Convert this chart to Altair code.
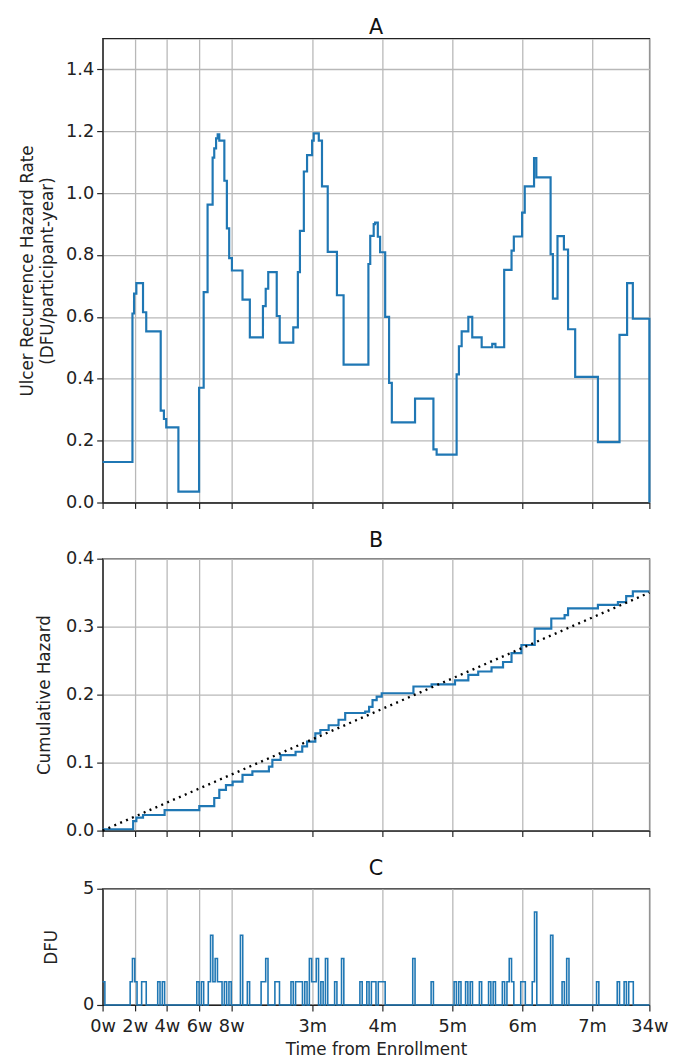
import altair as alt
import pandas as pd

# ---------------- x axis ticks (days since enrollment) ----------------
tick_days = [0, 14, 28, 42, 56, 91.31, 121.75, 152.19, 182.63, 213.06, 238]
tick_labels = ["0w", "2w", "4w", "6w", "8w", "3m", "4m", "5m", "6m", "7m", "34w"]
x_max = 238

# ---------------- Panel A: hazard rate (step) ----------------
hazard_day = [0, 13.0, 13.7, 14.7, 17.6, 19.0, 25.3, 26.7, 27.7, 33.0, 42.0, 44.0,
              45.7, 47.9, 48.6, 49.4, 50.1, 50.8, 53.0, 54.1, 55.1, 56.3, 60.9,
              64.1, 69.8, 71.0, 72.1, 75.8, 77.1, 83.0, 85.0, 85.9, 87.6, 89.0,
              91.2, 91.9, 94.1, 95.5, 98.0, 102.0, 104.9, 115.7, 116.5, 118.0,
              118.6, 119.8, 120.8, 123.0, 124.7, 125.9, 136.0, 144.0, 145.4,
              154.1, 155.1, 156.3, 159.2, 160.9, 165.0, 169.6, 171.0, 174.8,
              178.0, 179.0, 182.6, 183.75, 187.8, 188.8, 195.0, 196.0, 198.0,
              200.8, 202.6, 205.7, 215.6, 225.0, 228.3, 230.8, 238.0]
hazard_rate = [0.131, 0.611, 0.675, 0.709, 0.615, 0.553, 0.297, 0.27, 0.243, 0.035,
               0.371, 0.68, 0.963, 1.115, 1.145, 1.177, 1.19, 1.17, 1.04, 0.886,
               0.79, 0.75, 0.656, 0.534, 0.635, 0.691, 0.745, 0.603, 0.517, 0.566,
               0.745, 0.878, 1.07, 1.123, 1.17, 1.193, 1.17, 1.022, 0.81, 0.67,
               0.446, 0.771, 0.862, 0.9, 0.905, 0.859, 0.809, 0.6, 0.387, 0.259,
               0.336, 0.172, 0.155, 0.414, 0.505, 0.553, 0.6, 0.534, 0.502, 0.513,
               0.502, 0.752, 0.814, 0.86, 0.937, 1.022, 1.113, 1.051, 0.803, 0.659,
               0.861, 0.818, 0.56, 0.406, 0.195, 0.542, 0.709, 0.594, 0.0]

# ---------------- Panel B: cumulative hazard ----------------
cum_day = [0, 13.3, 14.7, 17.6, 27.0, 42.1, 48.6, 50.8, 53.7, 56.6, 60.9, 65.2,
           72.4, 73.9, 77.5, 84.0, 86.9, 89.0, 92.6, 94.8, 98.4, 102.7, 105.6,
           114.3, 116.0, 117.5, 119.3, 121.5, 135.3, 143.2, 153.4, 159.2, 163.5,
           169.3, 174.3, 178.0, 182.3, 188.1, 195.3, 201.1, 202.6, 215.6, 224.3,
           227.9, 230.8, 238.0]
cum_hazard = [0.002, 0.014, 0.019, 0.023, 0.030, 0.036, 0.048, 0.060, 0.067, 0.072,
              0.082, 0.087, 0.094, 0.104, 0.111, 0.116, 0.124, 0.131, 0.143, 0.148,
              0.155, 0.163, 0.173, 0.175, 0.182, 0.192, 0.197, 0.202, 0.212, 0.215,
              0.221, 0.229, 0.234, 0.240, 0.248, 0.261, 0.273, 0.297, 0.312, 0.317,
              0.327, 0.332, 0.336, 0.345, 0.352, 0.352]
ref_day = [0, 238]
ref_hazard = [0.0, 0.35]

# ---------------- Panel C: DFU events per day ----------------
dfu_day = [0, 12, 13, 14, 17, 18, 24, 26, 41, 43, 46, 47, 48, 49, 50, 51, 53, 55,
           60, 63, 69, 70, 71, 75, 76, 82, 84, 85, 86, 88, 90, 91, 92, 93, 95, 97,
           101, 104, 112, 115, 117, 118, 120, 121, 122, 135, 143, 153, 155, 158,
           160, 164, 168, 170, 174, 176, 177, 178, 182, 183, 187, 188, 195, 200,
           202, 215, 224, 227, 229, 230]
dfu_count = [1, 1, 2, 1, 1, 1, 1, 1, 1, 1, 1, 3, 1, 2, 1, 1, 1, 1,
             3, 1, 1, 1, 2, 1, 1, 1, 1, 1, 1, 1, 2, 1, 1, 2, 1, 2,
             1, 2, 1, 1, 1, 1, 1, 1, 1, 2, 1, 1, 1, 1,
             1, 1, 1, 1, 1, 1, 2, 1, 1, 1, 1, 4, 3, 1,
             2, 1, 1, 1, 1, 1]

# ---------------- tables ----------------
df_a = pd.DataFrame({"day": hazard_day, "rate": hazard_rate})
df_b = pd.DataFrame({"day": cum_day, "cum": cum_hazard})
df_ref = pd.DataFrame({"day": ref_day, "cum": ref_hazard})
counts = dict(zip(dfu_day, dfu_count))
df_c = pd.DataFrame({"day": list(range(0, x_max + 1)),
                     "dfu": [counts.get(d, 0) if d < x_max else 0 for d in range(0, x_max + 1)]})

# ---------------- styling ----------------
FONT = "DejaVu Sans"
BLUE = "#1f77b4"
W = 555
label_expr = "''"
for d, lab in reversed(list(zip(tick_days, tick_labels))):
    label_expr = f"abs(datum.value - {d}) < 0.5 ? '{lab}' : ({label_expr})"

xscale = alt.Scale(domain=[0, x_max], nice=False, zero=False)


def x_enc(show_labels):
    if show_labels:
        ax = alt.Axis(values=tick_days, labelExpr=label_expr, title="Time from Enrollment",
                      grid=True, labelOverlap=False, labelFlush=False,
                      labelPadding=7, titlePadding=6)
    else:
        ax = alt.Axis(values=tick_days, labels=False, title=None, grid=True)
    return alt.X("day:Q", scale=xscale, axis=ax)


def ptitle(t, off):
    return alt.TitleParams(text=t, fontSize=21, font=FONT, fontWeight="normal",
                           anchor="middle", offset=off, color="#111")


chart_a = alt.Chart(df_a).mark_line(interpolate="step-after", color=BLUE, strokeWidth=2.2).encode(
    x=x_enc(False),
    y=alt.Y("rate:Q", scale=alt.Scale(domain=[0, 1.5], nice=False),
            axis=alt.Axis(values=[0, 0.2, 0.4, 0.6, 0.8, 1.0, 1.2, 1.4], format=".1f",
                          title=["Ulcer Recurrence Hazard Rate", "(DFU/participant-year)"],
                          titleLineHeight=20, titlePadding=9)),
).properties(width=W, height=471, title=ptitle("A", 1))

line_b = alt.Chart(df_b).mark_line(interpolate="step-after", color=BLUE, strokeWidth=2.2).encode(
    x=x_enc(False),
    y=alt.Y("cum:Q", scale=alt.Scale(domain=[0, 0.4], nice=False),
            axis=alt.Axis(values=[0, 0.1, 0.2, 0.3, 0.4], format=".1f",
                          title="Cumulative Hazard", titlePadding=12)),
)
ref_b = alt.Chart(df_ref).mark_line(color="black", strokeWidth=2.4, strokeDash=[2, 4.5]).encode(
    x=alt.X("day:Q", scale=xscale),
    y=alt.Y("cum:Q"),
)
chart_b = alt.layer(line_b, ref_b).properties(width=W, height=276, title=ptitle("B", -1))

chart_c = alt.Chart(df_c).mark_line(interpolate="step-after", color=BLUE, strokeWidth=1.6).encode(
    x=x_enc(True),
    y=alt.Y("dfu:Q", scale=alt.Scale(domain=[0, 5], nice=False),
            axis=alt.Axis(values=[0, 5], grid=False, title="DFU", titlePadding=22)),
).properties(width=W, height=118, title=ptitle("C", 1))

chart = alt.vconcat(chart_a, chart_b, chart_c, spacing=17).configure(
    padding={"left": 10, "top": 0, "right": 6, "bottom": 0},
    font=FONT,
).configure_view(
    stroke="#222", strokeWidth=1.3,
).configure_axis(
    labelFont=FONT, titleFont=FONT, labelFontSize=18, titleFontSize=17,
    labelColor="#222", titleColor="#222", titleFontWeight="normal",
    domainColor="#222", domainWidth=1.3, tickColor="#222", tickSize=6, tickWidth=1.2,
    gridColor="#b8b8b8", gridWidth=1.3, labelPadding=3,
)

chart.save("out.html", embed_options={"renderer": "svg", "actions": False})
